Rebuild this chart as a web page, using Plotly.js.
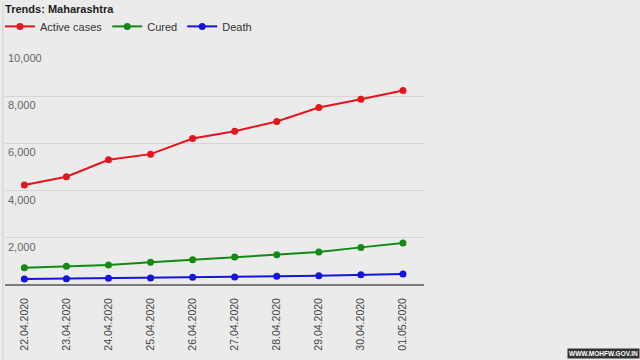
<!DOCTYPE html>
<html>
<head>
<meta charset="utf-8">
<script src="https://cdn.plot.ly/plotly-3.0.1.min.js"></script>
<style>
html,body{margin:0;padding:0;background:#ebebeb;}
#chart{width:640px;height:360px;}
</style>
</head>
<body>
<div id="chart"></div>
<script>
const dates = ["22.04.2020","23.04.2020","24.04.2020","25.04.2020","26.04.2020","27.04.2020","28.04.2020","29.04.2020","30.04.2020","01.05.2020"];
const activeCases = [4233, 4585, 5304, 5545, 6210, 6519, 6929, 7522, 7873, 8242];
const cured = [733, 790, 846, 959, 1072, 1185, 1284, 1397, 1594, 1778];
const death = [254, 268, 282, 296, 324, 339, 367, 395, 437, 466];
const yTickVals = [2000, 4000, 6000, 8000, 10000];
const yTickText = ["2,000", "4,000", "6,000", "8,000", "10,000"];

const xIdx = dates.map((d, i) => i);
function series(name, y, color) {
  return {
    x: xIdx, y: y, name: name, type: "scatter", mode: "lines+markers",
    line: {color: color, width: 2},
    marker: {color: color, size: 7}
  };
}
const data = [
  series("Active cases", activeCases, "#e8141c"),
  series("Cured", cured, "#138a13"),
  series("Death", death, "#1414e0")
];

const yLabelAnn = yTickVals.map((v, i) => ({
  text: yTickText[i], xref: "paper", yref: "y", x: 0, y: v,
  xanchor: "left", yanchor: "top", xshift: 1, yshift: -1, showarrow: false,
  font: {size: 11, color: "#666"}
}));

const layout = {
  width: 640, height: 360,
  paper_bgcolor: "#ebebeb", plot_bgcolor: "#ebebeb",
  font: {family: "Arial, Liberation Sans, sans-serif", color: "#555"},
  margin: {l: 5, r: 216, t: 49, b: 75},
  title: {text: "<b>Trends: Maharashtra</b>", x: 0.008, xanchor: "left", y: 0.985, yanchor: "top",
          font: {size: 11, color: "#222", family: "Arial, Liberation Sans, sans-serif"}},
  showlegend: true,
  legend: {orientation: "h", x: -0.025, xanchor: "left", y: 0.967, yref: "container", yanchor: "top",
           font: {size: 11, color: "#333"}, bgcolor: "rgba(0,0,0,0)", itemwidth: 30,
           traceorder: "normal", tracegroupgap: 0},
  xaxis: {
    range: [-0.46, 9.5], tickvals: xIdx, ticktext: dates, tickangle: -90,
    showgrid: false, zeroline: false, showline: false, ticks: "",
    ticklabelstandoff: 10,
    tickfont: {size: 10.5, color: "#444"}, fixedrange: true
  },
  yaxis: {
    range: [0, 10000], tickvals: yTickVals, showticklabels: false,
    showgrid: true, gridcolor: "#d6d6d6", gridwidth: 1,
    zeroline: true, zerolinecolor: "#7a7a7a", zerolinewidth: 2,
    showline: false, ticks: "", fixedrange: true
  },
  shapes: [{type: "line", xref: "paper", yref: "paper", x0: -0.005, x1: -0.005, y0: -0.32, y1: 1.2,
            line: {color: "#d2d2d2", width: 1}}],
  annotations: yLabelAnn.concat([{
    text: "<b>WWW.MOHFW.GOV.IN</b>", xref: "paper", yref: "paper", x: 1.515, y: -0.315,
    xanchor: "right", yanchor: "bottom", showarrow: false,
    font: {size: 6.5, color: "#ffffff"}, bgcolor: "#333333", borderpad: 1
  }])
};
Plotly.newPlot("chart", data, layout, {displayModeBar: false, staticPlot: true});
</script>
</body>
</html>
